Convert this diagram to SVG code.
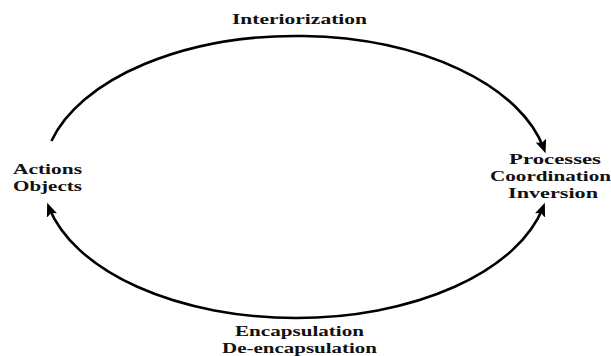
<svg xmlns="http://www.w3.org/2000/svg" width="611" height="356" viewBox="0 0 611 356">
  <style>
    .lbl { font-family: "Liberation Serif", "Times New Roman", serif; font-weight: bold; font-size: 15px; fill: #111; text-anchor: middle; }
    .arc { fill: none; stroke: #000; stroke-width: 2.6; }
  </style>
  <defs>
    <marker id="arrow" markerUnits="userSpaceOnUse" markerWidth="14" markerHeight="12" viewBox="0 0 14 12" refX="9" refY="6" orient="auto-start-reverse">
      <path d="M0,0.5 L13.5,6 L0,11.5 L2.5,6 Z" fill="#000"/>
    </marker>
  </defs>
  <rect width="611" height="356" fill="#fff"/>

  <g id="connectors">
    <path id="interiorization-arc" class="arc" d="M51.4,141 A253,141 0 0 1 544,149" marker-end="url(#arrow)"/>
    <path id="encapsulation-arc" class="arc" d="M48.8,207 A253,141 0 0 0 543.2,207" marker-start="url(#arrow)" marker-end="url(#arrow)"/>
  </g>

  <g id="label-interiorization">
    <text class="lbl" x="299.5" y="24" font-size="17" textLength="135" lengthAdjust="spacingAndGlyphs">Interiorization</text>
  </g>

  <g id="node-actions-objects">
    <text class="lbl" x="47.5" y="174" textLength="69" lengthAdjust="spacingAndGlyphs">Actions</text>
    <text class="lbl" x="47.5" y="191" textLength="69" lengthAdjust="spacingAndGlyphs">Objects</text>
  </g>

  <g id="node-processes">
    <text class="lbl" x="555" y="164" textLength="92" lengthAdjust="spacingAndGlyphs">Processes</text>
    <text class="lbl" x="550.5" y="181" textLength="121" lengthAdjust="spacingAndGlyphs">Coordination</text>
    <text class="lbl" x="553" y="198" textLength="90" lengthAdjust="spacingAndGlyphs">Inversion</text>
  </g>

  <g id="label-encapsulation">
    <text class="lbl" x="299.5" y="336" textLength="129" lengthAdjust="spacingAndGlyphs">Encapsulation</text>
    <text class="lbl" x="299.5" y="353" textLength="155" lengthAdjust="spacingAndGlyphs">De-encapsulation</text>
  </g>
</svg>
